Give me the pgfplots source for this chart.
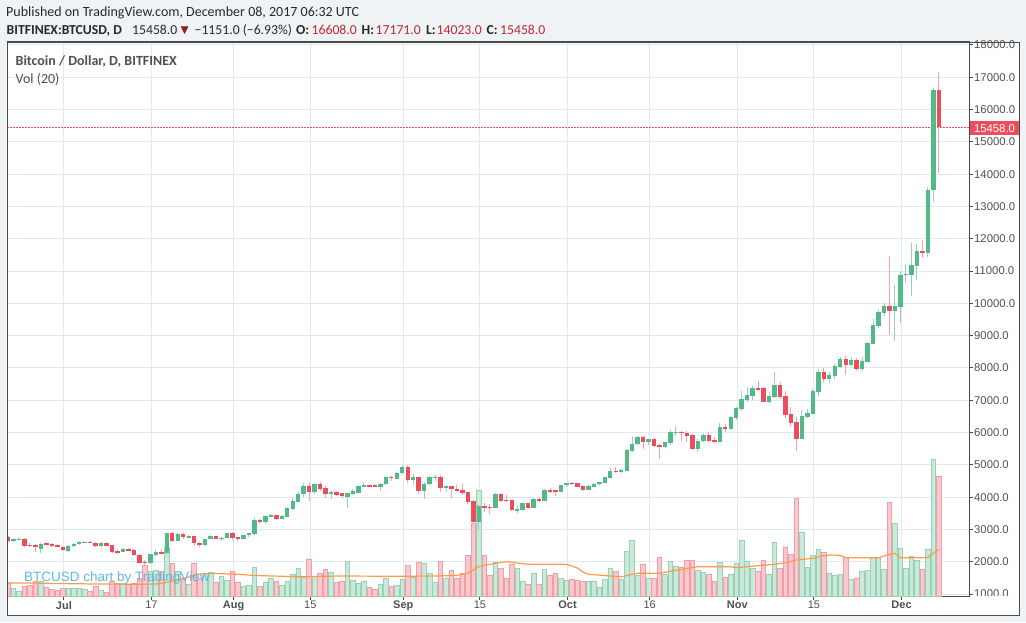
\documentclass[border=0pt]{standalone}
\usepackage{pgfplots}
\pgfplotsset{compat=1.18}
\usepackage{pgfplotstable}
\usepackage{fontspec}
\setmainfont{Liberation Sans}
\newfontfamily\carlito{Carlito}
\newfontfamily\dejavu{DejaVu Sans}
\definecolor{bgc}{RGB}{240,243,246}
\definecolor{framec}{RGB}{74,74,74}
\definecolor{gridc}{RGB}{225,232,238}
\definecolor{upc}{RGB}{83,185,135}
\definecolor{dnc}{RGB}{235,77,92}
\definecolor{upw}{RGB}{158,205,198}
\definecolor{dnw}{RGB}{243,163,172}
\definecolor{vupf}{RGB}{202,233,218}
\definecolor{vupd}{RGB}{150,210,179}
\definecolor{vdnf}{RGB}{250,201,206}
\definecolor{vdnd}{RGB}{239,159,168}
\definecolor{mac}{RGB}{255,154,77}
\definecolor{labc}{RGB}{80,80,80}
\definecolor{hdr}{RGB}{40,40,40}
\definecolor{valred}{RGB}{192,40,45}
\definecolor{wmc}{RGB}{77,178,230}

% up candles: day index (0 = 1 Jul 2017), open, high, low, close, volume (bar height)
\pgfplotstableread{
d o h l c v
-9 2651 2720 2610 2693 8
-8 2693 2745 2670 2715 5
-4 2393 2570 2259 2548 15
1 2342 2520 2310 2486 8
2 2486 2580 2460 2548 8
3 2548 2640 2530 2610 8
4 2605 2650 2570 2625 7
7 2486 2600 2470 2569 6
11 2311 2420 2290 2404 13
16 1950 2250 1930 2228 25
17 2218 2400 2190 2311 26
19 2259 2900 2240 2879 49
21 2651 2900 2630 2858 25
23 2755 2830 2720 2796 12
26 2517 2710 2500 2693 23
27 2693 2830 2690 2786 24
29 2713 2770 2650 2745 20
30 2734 2900 2720 2889 16
33 2713 2840 2700 2827 10
34 2827 2900 2780 2889 11
35 2858 3340 2840 3291 29
37 3240 3430 3180 3415 14
38 3394 3480 3380 3446 18
40 3332 3440 3320 3415 11
41 3394 3700 3380 3652 15
42 3632 3960 3610 3879 22
43 3859 4180 3850 4096 28
44 4086 4440 4000 4344 19
46 4168 4430 4100 4416 20
49 4117 4200 3940 4168 24
52 4014 4140 3650 4117 35
53 4086 4250 4060 4199 16
54 4138 4370 4120 4354 13
55 4323 4460 4300 4375 15
58 4323 4430 4200 4416 12
59 4395 4640 4360 4633 18
61 4571 4770 4560 4757 11
62 4736 4990 4720 4942 17
64 4529 4720 4380 4612 19
66 4199 4470 3930 4405 33
67 4395 4660 4370 4612 23
68 4600 4700 4500 4630 14
70 4282 4380 4170 4344 18
76 3239 3800 2980 3724 106
79 3673 4120 3660 4096 34
83 3600 3760 3500 3632 28
84 3600 3830 3580 3817 15
86 3673 3970 3660 3941 23
88 3879 4240 3870 4220 27
91 4158 4380 4150 4364 18
92 4364 4440 4300 4426 16
96 4230 4370 4220 4344 15
97 4323 4430 4310 4405 15
98 4405 4480 4380 4467 9
99 4447 4630 4440 4612 17
100 4591 4900 4580 4818 28
102 4777 4880 4750 4850 17
103 4818 5500 4810 5459 45
104 5438 5900 5400 5644 56
105 5634 5880 5600 5861 21
107 5716 5800 5620 5799 18
110 5562 5720 5520 5706 22
111 5685 6080 5620 6016 35
112 5990 6190 5900 6020 30
116 5490 5800 5410 5737 26
117 5737 5990 5720 5923 24
120 5720 6300 5700 6171 34
122 6110 6500 6090 6480 22
123 6460 6800 6380 6759 33
124 6728 7300 6680 7038 56
125 7007 7400 6950 7161 35
126 7130 7450 7000 7378 28
129 6945 7240 6920 7130 22
130 7110 7880 7070 7471 54
135 5810 6700 5800 6511 64
136 6490 6740 6440 6614 29
137 6583 7350 6570 7285 41
138 7254 7970 7120 7873 47
140 7667 7880 7530 7780 23
141 7759 8120 7660 8058 21
142 8037 8330 8000 8275 22
144 8100 8330 8050 8244 17
146 7976 8330 7900 8213 25
147 8182 8800 8170 8770 26
148 8750 9520 8730 9328 39
149 9307 9800 9240 9730 39
150 9710 10000 9610 9916 27
152 9772 10566 8843 9916 73
153 9895 10990 9400 10876 48
154 10876 11220 10640 10917 28
155 10876 11880 10240 11186 40
156 11165 11850 10720 11619 36
158 11567 13600 11430 13500 47
159 13500 16660 13150 16608 137
}\upt

% down candles
\pgfplotstableread{
d o h l c v
-10 2755 2790 2620 2651 13
-7 2715 2730 2470 2486 10
-6 2530 2580 2440 2490 11
-5 2520 2545 2290 2480 15
-3 2569 2610 2520 2538 9
-2 2548 2590 2470 2497 7
-1 2517 2545 2440 2466 6
0 2466 2500 2340 2362 8
5 2625 2640 2590 2600 5
6 2590 2610 2470 2486 10
8 2569 2600 2480 2486 4
9 2517 2530 2280 2311 15
10 2342 2400 2250 2280 13
12 2393 2430 2340 2362 12
13 2362 2385 2180 2208 13
14 2208 2230 1960 1970 18
15 2001 2060 1880 1950 31
18 2311 2390 2240 2259 25
20 2879 2920 2620 2651 33
22 2858 2880 2700 2755 18
24 2796 2810 2480 2569 33
25 2569 2600 2440 2517 18
28 2786 2800 2690 2713 14
31 2889 2930 2680 2734 25
32 2755 2770 2640 2703 14
36 3291 3310 3180 3229 10
39 3446 3460 3290 3322 15
45 4344 4450 3870 4168 37
47 4416 4480 4200 4251 23
48 4272 4340 3960 4096 27
50 4150 4190 4040 4076 14
51 4117 4130 3980 4034 15
56 4375 4390 4300 4340 9
57 4360 4400 4320 4330 7
60 4633 4650 4500 4592 10
63 4942 4980 4430 4529 31
65 4612 4630 4110 4199 34
69 4612 4700 4150 4282 35
71 4344 4350 3960 4240 26
72 4261 4360 4150 4189 18
73 4220 4400 4080 4137 23
74 4158 4170 3800 3858 41
75 3879 3900 3200 3239 73
77 3724 3820 3550 3690 41
78 3700 3780 3480 3668 21
80 4096 4120 3850 3889 28
81 3920 4060 3850 3889 18
82 3910 3920 3580 3600 32
85 3817 3830 3640 3673 12
87 3941 4000 3850 3879 12
89 4220 4270 4130 4178 21
90 4210 4230 4040 4158 23
93 4447 4480 4390 4416 17
94 4426 4440 4300 4323 16
95 4344 4360 4200 4230 15
101 4818 4930 4740 4777 25
106 5861 5890 5480 5706 32
108 5799 5820 5540 5593 18
109 5613 5640 5170 5562 39
113 6020 6060 5740 5990 29
114 6000 6050 5700 5892 36
115 5923 5950 5450 5490 36
118 5923 6020 5700 5737 22
119 5770 5850 5680 5720 15
121 6171 6250 6030 6120 19
127 7378 7600 7290 7337 25
128 7378 7420 6940 6945 36
131 7471 7560 7050 7110 28
132 7130 7300 6450 6553 49
133 6573 6800 6200 6305 42
134 6325 6480 5438 5810 98
139 7873 8000 7560 7667 44
143 8275 8400 7790 8100 39
145 8244 8300 7920 7976 18
151 9916 11464 9018 9772 94
157 11619 11960 11415 11588 27
160 16608 17171 14023 15458 120
}\dnt

% volume moving average (20)
\pgfplotstableread{
d m
-10 13
-6 13
-1 12.5
6 12
14 11.7
17 12
19 13.5
21 16
23 19
25 22
27 22.7
32 21.7
35 20.5
43 19.3
51 20
61 19.7
68 20
72 20.5
74 23
75 26
76 29.5
78 31.7
81 34.3
85 31.7
92 31.7
94 28
95 24
96 21.7
100 20
102 19
104 21.7
105 22.7
109 22.7
112 25.7
116 29.3
122 29.3
123 28.3
127 30.3
130 31.7
132 33.3
134 36
137 37.7
139 40.3
140 41
142 40.7
143 38.3
149 38.3
151 41.7
152 42.7
153 38.3
157 38.3
158 38.5
159 42.5
160 46.7
}\mat

\pgfplotsset{
  base/.style={at={(7pt,26pt)}, anchor=south west, scale only axis,
    width=962pt, height=554pt, xmin=-10.19, xmax=165.52},
  price/.style={ymin=938.1, ymax=18092.9},
}

\begin{document}
\begin{tikzpicture}[x=1pt,y=1pt]
\path[use as bounding box] (0,0) rectangle (1026,622);
\fill[bgc] (0,0) rectangle (1026,622);
\fill[white] (7,6.5) rectangle (1019.5,580);

% axis A: grid, ticks, labels
\begin{axis}[base, price,
  axis line style={draw=framec, line width=1pt},
  grid=major, major grid style={draw=gridc, line width=1pt},
  tick align=outside, major tick length=4pt,
  tick style={draw=framec, line width=1pt},
  xtick pos=left, ytick pos=right, yticklabel pos=right,
  scaled y ticks=false,
  xtick={0.2,16.2,31.2,45.2,62.2,76.2,92.2,107.2,123.2,137.2,153.2},
  xticklabels={\textbf{Jul},17,\textbf{Aug},15,\textbf{Sep},15,\textbf{Oct},16,\textbf{Nov},15,\textbf{Dec}},
  ytick={1000,2000,3000,4000,5000,6000,7000,8000,9000,10000,11000,12000,13000,14000,15000,16000,17000,18000},
  xticklabel style={font=\fontsize{11}{13}\selectfont, text=labc, inner sep=1pt},
  yticklabel style={font=\fontsize{11.3}{13}\selectfont, text=labc, inner sep=1pt},
  /pgf/number format/fixed, /pgf/number format/fixed zerofill,
  /pgf/number format/precision=1, /pgf/number format/1000 sep={},
  /pgf/number format/assume math mode=true,
]
\addplot[draw=none] coordinates {(0,1000)};
\end{axis}

% axis B: volume bars and their 20-day average
\begin{axis}[base, ymin=0, ymax=554, hide axis]
\addplot[ybar, bar width=0.84, fill=vupf, draw=vupd, line width=0.8pt] table[x=d, y=v] {\upt};
\addplot[ybar, bar width=0.84, fill=vdnf, draw=vdnd, line width=0.8pt] table[x=d, y=v] {\dnt};
\addplot[mac, line width=1.2pt, mark=none] table[x=d, y=m] {\mat};
\end{axis}

% axis C: candles
\begin{axis}[base, price, hide axis]
\addplot[dnc, line width=0.8pt, dash pattern=on 1.5pt off 1.5pt, mark=none] coordinates {(-10.19,15458) (165.52,15458)};
% wicks
\addplot[draw=none, mark=none, error bars/.cd, y dir=both, y explicit, error mark=none,
  error bar style={draw=upw, line width=1pt}]
  table[x=d, y expr={(\thisrow{h}+\thisrow{l})/2}, y error expr={(\thisrow{h}-\thisrow{l})/2}] {\upt};
\addplot[draw=none, mark=none, error bars/.cd, y dir=both, y explicit, error mark=none,
  error bar style={draw=dnw, line width=1pt}]
  table[x=d, y expr={(\thisrow{h}+\thisrow{l})/2}, y error expr={(\thisrow{h}-\thisrow{l})/2}] {\dnt};
% bodies
\addplot[draw=none, mark=none, error bars/.cd, y dir=both, y explicit, error mark=none,
  error bar style={draw=upc, line width=4.4pt}]
  table[x=d, y expr={(\thisrow{o}+\thisrow{c})/2}, y error expr={(\thisrow{c}-\thisrow{o})/2}] {\upt};
\addplot[draw=none, mark=none, error bars/.cd, y dir=both, y explicit, error mark=none,
  error bar style={draw=dnc, line width=4.4pt}]
  table[x=d, y expr={(\thisrow{o}+\thisrow{c})/2}, y error expr={(\thisrow{o}-\thisrow{c})/2}] {\dnt};
\end{axis}

\fill[white] (970,7.5) rectangle (1018.5,26.3);
\draw[framec, line width=1pt] (7.5,7) rectangle (1019.5,579.5);

% last price tag
\fill[dnc] (970,487) rectangle (1019,500.5);
\node[text=white, font=\fontsize{11.3}{13}\selectfont, inner sep=0pt] at (994.5,493.7) {15458.0};

% legends inside the pane
\node[anchor=base west, inner sep=0pt, text=labc, font=\carlito\bfseries\fontsize{14}{16}\selectfont] at (15.5,556) {Bitcoin / Dollar, D, BITFINEX};
\node[anchor=base west, inner sep=0pt, text=labc, font=\carlito\fontsize{14}{16}\selectfont] at (15.5,538.5) {Vol (20)};

% watermark
\node[anchor=base west, inner sep=0pt, text=wmc, opacity=0.9, font=\fontsize{13.5}{15}\selectfont] at (24,40.5) {BTCUSD chart by TradingView};

% header
\node[anchor=base west, inner sep=0pt, text=hdr, font=\carlito\fontsize{14}{16}\selectfont] at (6,605.3) {Published on TradingView.com, December 08, 2017 06:32 UTC};
\begin{scope}[every node/.style={anchor=base west, inner sep=0pt, text=hdr, font=\carlito\fontsize{13.7}{16}\selectfont}]
\node at (6.5,587.7) {\textbf{BITFINEX:BTCUSD, D}};
\node at (132,587.7) {15458.0};
\node[text=valred!75!black, font=\dejavu\fontsize{10.5}{12}\selectfont] at (180.5,588.5) {▼};
\node at (194.5,587.7) {−1151.0 (−6.93\%)};
\node at (296,587.7) {\textbf{O:}};
\node[text=valred] at (311.5,587.7) {16608.0};
\node at (361.5,587.7) {\textbf{H:}};
\node[text=valred] at (375.5,587.7) {17171.0};
\node at (426,587.7) {\textbf{L:}};
\node[text=valred] at (436.5,587.7) {14023.0};
\node at (486.5,587.7) {\textbf{C:}};
\node[text=valred] at (500,587.7) {15458.0};
\end{scope}
\end{tikzpicture}
\end{document}
